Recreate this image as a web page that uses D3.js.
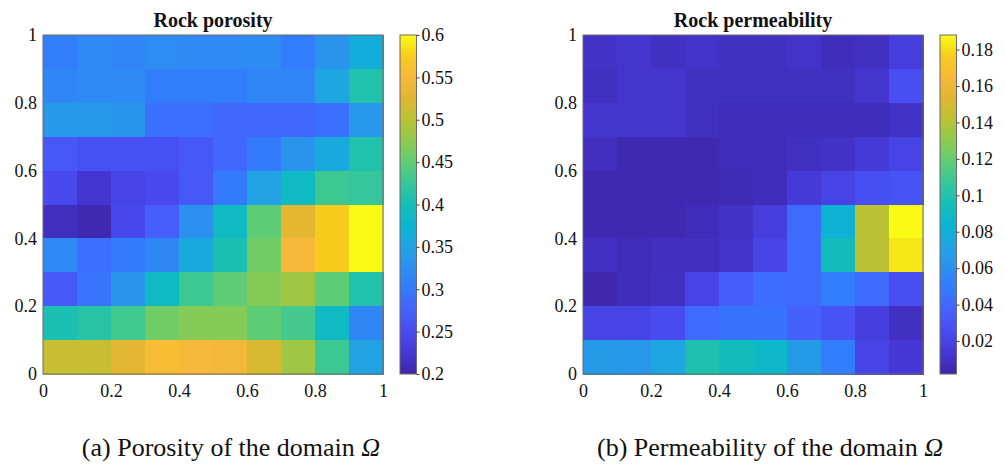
<!DOCTYPE html>
<html>
<head>
<meta charset="utf-8">
<script src="https://cdn.jsdelivr.net/npm/d3@7"></script>
<style>
  body { margin: 0; background: #fff; }
  svg text { font-family: 'Liberation Serif', 'Times New Roman', Times, serif; }
</style>
</head>
<body>
<div id="chart"></div>
<script>
// ---- data (rows go from top y=0.9..1 down to bottom y=0..0.1) ----
var gridTicks = [0, 0.2, 0.4, 0.6, 0.8, 1];
var porosityTicks = [0.2, 0.25, 0.3, 0.35, 0.4, 0.45, 0.5, 0.55, 0.6];
var permeabilityTicks = [0.02, 0.04, 0.06, 0.08, 0.1, 0.12, 0.14, 0.16, 0.18];
var porosityRange = [0.2, 0.6];
var permeabilityRange = [0.0019, 0.188];

var porosity = [
  [0.305, 0.318, 0.312, 0.322, 0.318, 0.318, 0.320, 0.303, 0.330, 0.365],
  [0.312, 0.318, 0.318, 0.305, 0.305, 0.305, 0.312, 0.312, 0.355, 0.410],
  [0.335, 0.335, 0.332, 0.290, 0.290, 0.280, 0.280, 0.280, 0.290, 0.335],
  [0.265, 0.255, 0.255, 0.255, 0.265, 0.280, 0.300, 0.330, 0.360, 0.410],
  [0.248, 0.222, 0.240, 0.248, 0.265, 0.300, 0.350, 0.390, 0.430, 0.425],
  [0.212, 0.205, 0.245, 0.270, 0.325, 0.390, 0.450, 0.530, 0.575, 0.600],
  [0.318, 0.290, 0.300, 0.315, 0.360, 0.405, 0.460, 0.550, 0.575, 0.600],
  [0.265, 0.295, 0.330, 0.390, 0.430, 0.450, 0.470, 0.485, 0.450, 0.410],
  [0.405, 0.415, 0.432, 0.460, 0.470, 0.470, 0.450, 0.435, 0.390, 0.315],
  [0.510, 0.510, 0.530, 0.555, 0.550, 0.545, 0.520, 0.485, 0.430, 0.350]
];

var permeability = [
  [0.010, 0.012, 0.0085, 0.011, 0.0085, 0.0085, 0.011, 0.007, 0.0085, 0.017],
  [0.0085, 0.012, 0.012, 0.0085, 0.0085, 0.0085, 0.0085, 0.0085, 0.012, 0.026],
  [0.012, 0.012, 0.012, 0.0085, 0.006, 0.006, 0.006, 0.006, 0.007, 0.010],
  [0.008, 0.004, 0.004, 0.004, 0.006, 0.006, 0.0085, 0.010, 0.015, 0.0205],
  [0.004, 0.004, 0.004, 0.004, 0.005, 0.007, 0.015, 0.020, 0.027, 0.029],
  [0.004, 0.004, 0.004, 0.006, 0.010, 0.017, 0.041, 0.082, 0.142, 0.188],
  [0.0085, 0.006, 0.008, 0.008, 0.011, 0.020, 0.041, 0.093, 0.142, 0.183],
  [0.003, 0.007, 0.009, 0.020, 0.034, 0.042, 0.041, 0.050, 0.041, 0.026],
  [0.0205, 0.0205, 0.025, 0.041, 0.045, 0.045, 0.036, 0.029, 0.018, 0.0085],
  [0.067, 0.065, 0.074, 0.099, 0.093, 0.088, 0.067, 0.050, 0.0205, 0.014]
];

// parula, sampled every 1/16
var parulaStops = [
  "#3e26a8", "#4537d5", "#484cf0", "#4562fc", "#337afd", "#2c90f0",
  "#21a3e3", "#0bb4d2", "#14beb8", "#35c79b", "#5ecd75", "#8eca4f",
  "#b9c234", "#deb72f", "#f8b83b", "#f7cc1d", "#f9fb15"
];

var attrs = {
  svgWidth: 1005,
  svgHeight: 469,
  font: "'Liberation Serif', 'Times New Roman', serif",
  boxColor: "#6b6b6b"
};

var panels = [
  { key: "poro", title: "Rock porosity", values: porosity, range: porosityRange, ticks: porosityTicks,
    left: 43, barLeft: 400, captionX: 231, captionLabel: "(a) Porosity of the domain " },
  { key: "perm", title: "Rock permeability", values: permeability, range: permeabilityRange, ticks: permeabilityTicks,
    left: 583, barLeft: 940, captionX: 770, captionLabel: "(b) Permeability of the domain " }
];

var parula = d3.piecewise(d3.interpolateRgb, parulaStops);

var svg = d3.select("#chart").append("svg")
  .attr("width", attrs.svgWidth)
  .attr("height", attrs.svgHeight);

svg.append("rect").attr("width", attrs.svgWidth).attr("height", attrs.svgHeight).attr("fill", "#fff");

var defs = svg.append("defs");

panels.forEach(function (p) {
  var calc = {};
  calc.top = 35;
  calc.bottom = 374;
  calc.width = 340;

  var x = d3.scaleLinear().domain([0, 1]).range([p.left, p.left + calc.width]);
  var y = d3.scaleLinear().domain([0, 1]).range([calc.bottom, calc.top]);
  var color = d3.scaleSequential(parula).domain(p.range).clamp(true);

  var g = svg.append("g").attr("class", "panel-" + p.key);

  // cells
  var cells = [];
  p.values.forEach(function (row, r) {
    row.forEach(function (v, c) {
      cells.push({ col: c, row: 9 - r, value: v });
    });
  });

  g.append("g").selectAll("rect")
    .data(cells)
    .join("rect")
    .attr("x", d => x(d.col / 10))
    .attr("y", d => y((d.row + 1) / 10))
    .attr("width", d => x((d.col + 1) / 10) - x(d.col / 10) + 0.5)
    .attr("height", d => y(d.row / 10) - y((d.row + 1) / 10) + 0.5)
    .attr("fill", d => color(d.value))
    .attr("shape-rendering", "crispEdges");

  // box
  g.append("rect")
    .attr("x", x(0)).attr("y", y(1))
    .attr("width", x(1) - x(0)).attr("height", y(0) - y(1))
    .attr("fill", "none").attr("stroke", attrs.boxColor).attr("stroke-width", 1);

  // axes
  var fmt = d3.format("~g");
  var yAxis = g.append("g")
    .attr("transform", "translate(" + x(0) + ",0)")
    .call(d3.axisLeft(y).tickValues(gridTicks).tickSize(0).tickPadding(6).tickFormat(fmt));
  var xAxis = g.append("g")
    .attr("transform", "translate(0," + y(0) + ")")
    .call(d3.axisBottom(x).tickValues(gridTicks).tickSize(0).tickPadding(10).tickFormat(fmt));
  [yAxis, xAxis].forEach(function (a) {
    a.attr("font-family", null);
    a.select(".domain").remove();
    a.selectAll("text").style("font-family", attrs.font).attr("font-size", 18).attr("fill", "#111");
  });

  // title
  g.append("text")
    .attr("x", (x(0) + x(1)) / 2)
    .attr("y", 27)
    .attr("text-anchor", "middle")
    .attr("font-weight", "bold")
    .attr("font-size", 20)
    .attr("fill", "#111")
    .style("font-family", attrs.font)
    .text(p.title);

  // colorbar
  var gradId = "grad-" + p.key;
  var grad = defs.append("linearGradient").attr("id", gradId)
    .attr("x1", 0).attr("y1", 1).attr("x2", 0).attr("y2", 0);
  grad.selectAll("stop")
    .data(d3.range(0, 1.0001, 1 / 32))
    .join("stop")
    .attr("offset", d => d)
    .attr("stop-color", d => parula(d));

  var cScale = d3.scaleLinear().domain(p.range).range([calc.bottom, calc.top]);
  var barW = 16.5;
  g.append("rect")
    .attr("x", p.barLeft).attr("y", calc.top)
    .attr("width", barW).attr("height", calc.bottom - calc.top)
    .attr("fill", "url(#" + gradId + ")")
    .attr("stroke", attrs.boxColor).attr("stroke-width", 1);

  var cAxis = g.append("g")
    .attr("transform", "translate(" + (p.barLeft + barW) + ",0)")
    .call(d3.axisRight(cScale).tickValues(p.ticks).tickSize(3).tickPadding(2).tickFormat(fmt));
  cAxis.attr("font-family", null);
  cAxis.select(".domain").remove();
  cAxis.selectAll("line").attr("stroke", "#444");
  cAxis.selectAll("text").style("font-family", attrs.font).attr("font-size", 18).attr("fill", "#111");

  // caption
  var cap = svg.append("text")
    .attr("x", p.captionX)
    .attr("y", 456)
    .attr("text-anchor", "middle")
    .attr("font-size", 26)
    .attr("fill", "#111")
    .style("font-family", attrs.font);
  cap.append("tspan").text(p.captionLabel);
  cap.append("tspan").attr("font-style", "italic").text("\u03A9");
});
</script>
</body>
</html>
